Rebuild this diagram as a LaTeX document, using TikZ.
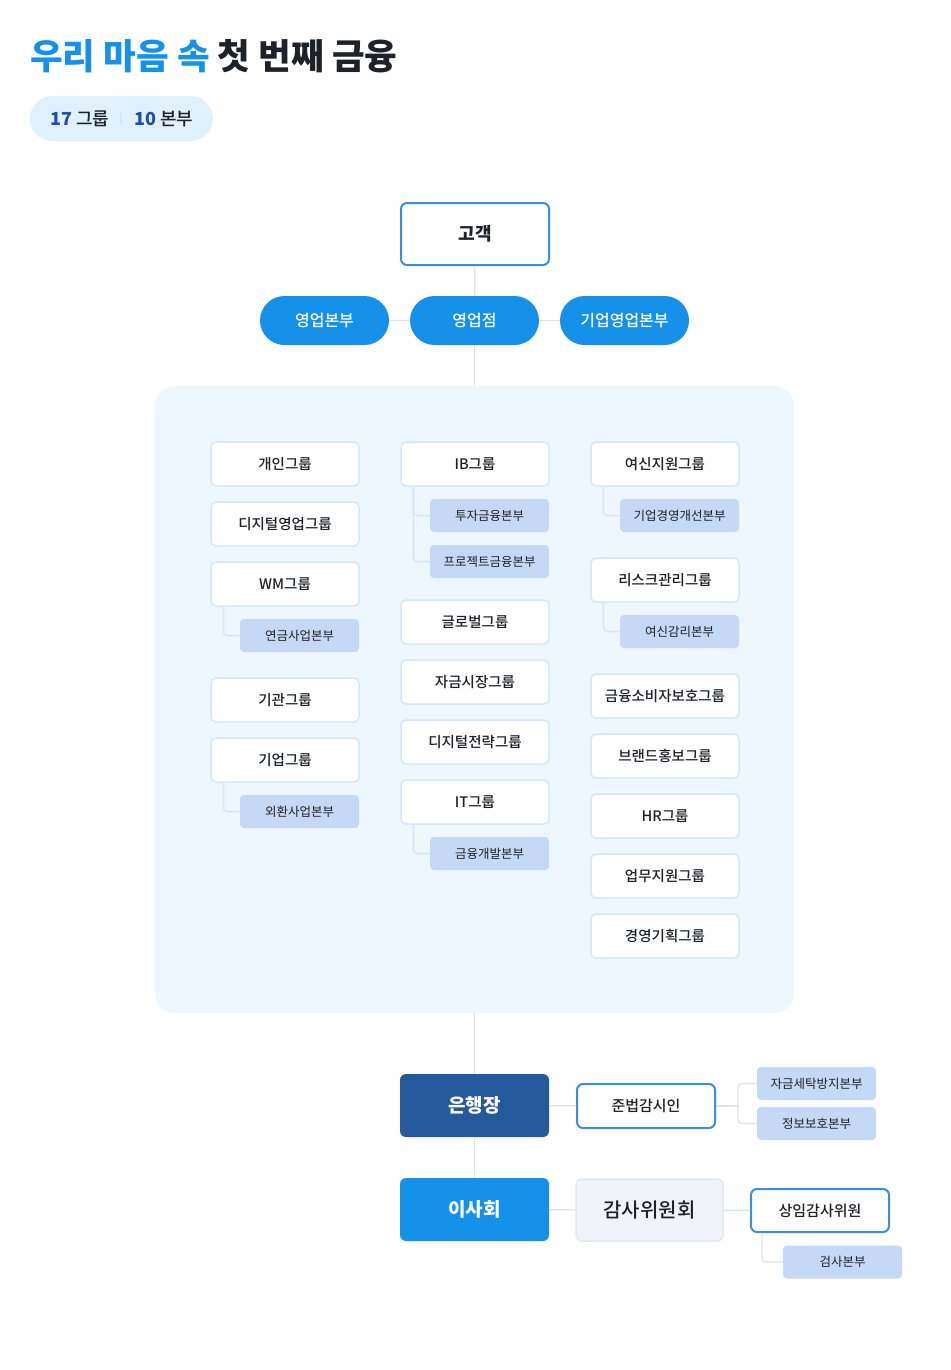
\documentclass[tikz,border=0pt]{standalone}
\usepackage{fontspec}
\setmainfont{Noto Sans CJK KR}
\IfFontExistsTF{Noto Sans CJK KR Medium}
  {\newfontfamily\medfont{Noto Sans CJK KR Medium}}
  {\newcommand\medfont{\relax}}
\usetikzlibrary{positioning}
\usetikzlibrary{calc}
\definecolor{mainblue}{HTML}{1591EA}
\definecolor{navy}{HTML}{245A9B}
\definecolor{boxblue}{HTML}{3A8FD8}
\definecolor{panelbg}{HTML}{EEF6FE}
\definecolor{grpline}{HTML}{D6E6FB}
\definecolor{subfill}{HTML}{C5D8F6}
\definecolor{linegray}{HTML}{DFE3E9}
\definecolor{ink}{HTML}{1D2229}
\definecolor{auditfill}{HTML}{F0F4FA}
\definecolor{auditline}{HTML}{E2E8F0}
\definecolor{badgebg}{HTML}{E0F0FD}
\definecolor{numblue}{HTML}{1F50AE}
\tikzset{
    grpbox/.style = {rectangle, rounded corners=5pt, draw=grpline, line width=1.5pt, fill=white, minimum width=148pt, minimum height=44pt, inner sep=0pt, text=ink, font=\fontsize{14.5}{17}\selectfont\medfont},
    subbox/.style = {rectangle, rounded corners=4pt, fill=subfill, minimum width=119pt, minimum height=33pt, inner sep=0pt, text=ink, font=\fontsize{12.5}{15}\selectfont},
    pillbox/.style = {rectangle, rounded corners=24.5pt, fill=mainblue, minimum width=129pt, minimum height=49pt, inner sep=0pt, text=white, font=\fontsize{16}{19}\selectfont\medfont},
    linebox/.style = {rectangle, rounded corners=6pt, draw=boxblue, line width=2pt, fill=white, inner sep=0pt, text=ink},
    headbox/.style = {rectangle, rounded corners=6pt, minimum width=149pt, minimum height=63pt, inner sep=0pt, text=white, font=\fontsize{19}{22}\selectfont\bfseries},
    panelbox/.style = {rectangle, rounded corners=20pt, fill=panelbg, minimum width=639pt, minimum height=627pt, inner sep=0pt},
    edgeg/.style = {line width=1.3pt, draw=linegray},
    edgel/.style = {line width=1.5pt, draw=grpline, rounded corners=4pt}, % group to division
}

\begin{document}
\begin{tikzpicture}[x=1pt,y=-1pt]
\useasboundingbox (0,0) rectangle (950,1370);
%
\node[anchor=west,inner sep=0pt,font=\fontsize{35.5}{40}\selectfont\bfseries] at (30,56) (title) {\textcolor{mainblue}{우리 마음 속} \textcolor{ink}{첫 번째 금융}};
\node[rectangle,rounded corners=22.5pt,fill=badgebg,minimum width=183pt,minimum height=45pt] at (121.5,118.5) (badge) {};
\node[anchor=west,inner sep=0pt,text=ink,font=\fontsize{18}{21}\selectfont\medfont] at (50,119) (ngrp) {\textcolor{numblue}{\bfseries 17} 그룹};
\node[rectangle,fill=grpline,minimum width=1.2pt,minimum height=13pt,inner sep=0pt] at (121,119) (sep) {};
\node[anchor=west,inner sep=0pt,text=ink,font=\fontsize{18}{21}\selectfont\medfont] at (134,119) (nbon) {\textcolor{numblue}{\bfseries 10} 본부};
%
\node[linebox,minimum width=148pt,minimum height=62pt,font=\fontsize{18}{21}\selectfont\bfseries] at (475,234) (cust) {고객};
\node[pillbox] at (324.5,320.5) (sales) {영업본부};
\node[pillbox] at (474.5,320.5) (store) {영업점};
\node[pillbox] at (624.5,320.5) (corp) {기업영업본부};
\node[panelbox] at (474.5,699.5) (panel) {};
%
\draw[edgeg] (cust) -- (store);
\draw[edgeg] (sales) -- (store);
\draw[edgeg] (store) -- (corp);
\draw[edgeg] (store) -- (panel);
%
\node[grpbox] at (285,464) (gaein) {개인그룹};
\node[grpbox] at (285,524) (digsales) {디지털영업그룹};
\node[grpbox] at (285,584) (wm) {WM그룹};
\node[subbox] at (299.5,635.5) (pension) {연금사업본부};
\node[grpbox] at (285,700) (inst) {기관그룹};
\node[grpbox] at (285,760) (firm) {기업그룹};
\node[subbox] at (299.5,811.5) (fx) {외환사업본부};
%
\node[grpbox] at (475,464) (ib) {IB그룹};
\node[subbox] at (489.5,515.5) (invest) {투자금융본부};
\node[subbox] at (489.5,561.5) (project) {프로젝트금융본부};
\node[grpbox] at (475,622) (global) {글로벌그룹};
\node[grpbox] at (475,682) (market) {자금시장그룹};
\node[grpbox] at (475,742) (digstrat) {디지털전략그룹};
\node[grpbox] at (475,802) (it) {IT그룹};
\node[subbox] at (489.5,853.5) (fdev) {금융개발본부};
%
\node[grpbox] at (665,464) (credit) {여신지원그룹};
\node[subbox] at (679.5,515.5) (improve) {기업경영개선본부};
\node[grpbox] at (665,580) (risk) {리스크관리그룹};
\node[subbox] at (679.5,631.5) (review) {여신감리본부};
\node[grpbox] at (665,696) (consumer) {금융소비자보호그룹};
\node[grpbox] at (665,756) (brand) {브랜드홍보그룹};
\node[grpbox] at (665,816) (hr) {HR그룹};
\node[grpbox] at (665,876) (support) {업무지원그룹};
\node[grpbox] at (665,936) (plan) {경영기획그룹};
%
\draw[edgel] ($(wm.south west)+(13,0)$) |- (pension.west);
\draw[edgel] ($(firm.south west)+(13,0)$) |- (fx.west);
\draw[edgel] ($(ib.south west)+(13,0)$) |- (invest.west);
\draw[edgel] ($(ib.south west)+(13,0)$) |- (project.west);
\draw[edgel] ($(it.south west)+(13,0)$) |- (fdev.west);
\draw[edgel] ($(credit.south west)+(13,0)$) |- (improve.west);
\draw[edgel] ($(risk.south west)+(13,0)$) |- (review.west);
%
\node[headbox,fill=navy] at (474.5,1105.5) (ceo) {은행장};
\node[linebox,minimum width=138pt,minimum height=44pt,font=\fontsize{15}{18}\selectfont\medfont] at (646,1106) (comp) {준법감시인};
\node[subbox] at (816.5,1083.5) (aml) {자금세탁방지본부};
\node[subbox] at (816.5,1123.5) (info) {정보보호본부};
\coordinate (br) at (738,1106);
\node[headbox,fill=mainblue] at (474.5,1209.5) (board) {이사회};
\node[rectangle,rounded corners=6pt,draw=auditline,line width=1.5pt,fill=auditfill,minimum width=147pt,minimum height=62pt,text=ink,font=\fontsize{20}{23}\selectfont\medfont] at (649.5,1210) (audit) {감사위원회};
\node[linebox,minimum width=138pt,minimum height=43pt,font=\fontsize{15}{18}\selectfont\medfont] at (820,1210.5) (standing) {상임감사위원};
\node[subbox] at (842.5,1262) (inspect) {검사본부};
%
\draw[edgeg] (panel) -- (ceo);
\draw[edgeg] (ceo) -- (board);
\draw[edgeg] (ceo) -- (comp);
\draw[edgeg] (comp) -- (br);
\draw[edgeg,rounded corners=4pt] (aml.west) -| (br) |- (info.west);
\draw[edgeg] (board) -- (audit);
\draw[edgeg] (audit) -- (standing);
\draw[edgeg,rounded corners=4pt] ($(standing.south west)+(12,0)$) |- (inspect.west);

\end{tikzpicture}
\end{document}
